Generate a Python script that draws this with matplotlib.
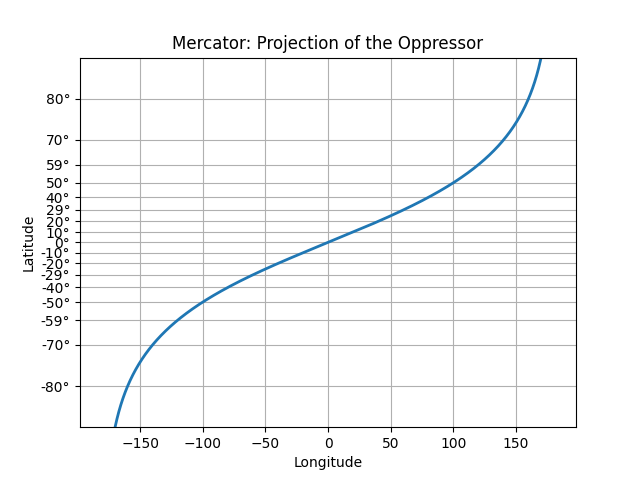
import numpy as np
import matplotlib
matplotlib.use('Agg')
import matplotlib.pyplot as plt
from matplotlib import scale as mscale
from matplotlib import transforms as mtransforms
from matplotlib.ticker import FixedLocator, FuncFormatter

# Data: longitude in degrees, latitude (radians) = longitude / 2
longitude = np.arange(-180.0, 180.0, 0.1)
latitude = np.radians(longitude) / 2.0
lat_ticks_deg = list(range(-90, 90, 10))


class MercatorLatitudeScale(mscale.ScaleBase):
    name = 'mercator'

    def __init__(self, axis, *, thresh=np.deg2rad(85), **kwargs):
        super().__init__(axis)
        self.thresh = thresh

    def get_transform(self):
        return self.MercatorLatitudeTransform(self.thresh)

    def set_default_locators_and_formatters(self, axis):
        fmt = FuncFormatter(lambda x, pos=None: "%d\N{DEGREE SIGN}" % np.degrees(x))
        axis.set(major_locator=FixedLocator(np.radians(lat_ticks_deg)),
                 major_formatter=fmt, minor_formatter=fmt)

    def limit_range_for_scale(self, vmin, vmax, minpos):
        return max(vmin, -self.thresh), min(vmax, self.thresh)

    class MercatorLatitudeTransform(mtransforms.Transform):
        input_dims = output_dims = 1

        def __init__(self, thresh):
            mtransforms.Transform.__init__(self)
            self.thresh = thresh

        def transform_non_affine(self, a):
            masked = np.ma.masked_where((a < -self.thresh) | (a > self.thresh), a)
            if masked.mask.any():
                return np.ma.log(np.abs(np.ma.tan(masked) + 1 / np.ma.cos(masked)))
            else:
                return np.log(np.abs(np.tan(a) + 1 / np.cos(a)))

        def inverted(self):
            return MercatorLatitudeScale.InvertedMercatorLatitudeTransform(self.thresh)

    class InvertedMercatorLatitudeTransform(mtransforms.Transform):
        input_dims = output_dims = 1

        def __init__(self, thresh):
            mtransforms.Transform.__init__(self)
            self.thresh = thresh

        def transform_non_affine(self, a):
            return np.arctan(np.sinh(a))

        def inverted(self):
            return MercatorLatitudeScale.MercatorLatitudeTransform(self.thresh)


mscale.register_scale(MercatorLatitudeScale)

fig, ax = plt.subplots(figsize=(6.4, 4.8), dpi=100)
ax.plot(longitude, latitude, '-', lw=2)
ax.set_yscale('mercator')

ax.set_xlabel('Longitude')
ax.set_ylabel('Latitude')
ax.set_title('Mercator: Projection of the Oppressor')
ax.grid(True)

plt.savefig('out.png', dpi=100)
